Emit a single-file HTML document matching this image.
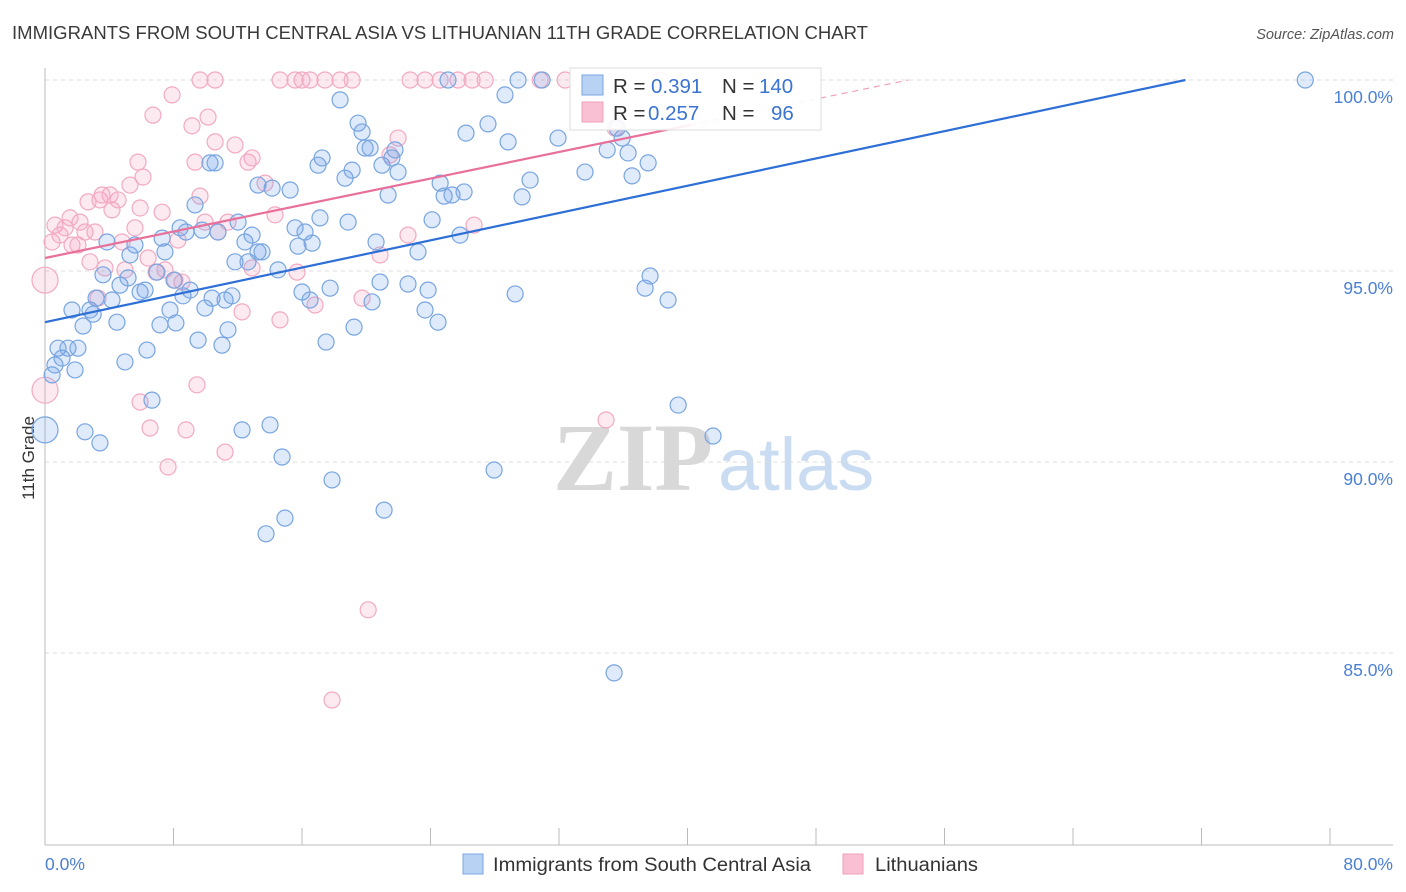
<!DOCTYPE html>
<html><head><meta charset="utf-8"><style>
body{margin:0;background:#fff;font-family:"Liberation Sans",sans-serif;}
#wrap{position:relative;width:1406px;height:892px;overflow:hidden}
</style></head><body><div id="wrap">
<svg id="svg" width="1406" height="892" xmlns="http://www.w3.org/2000/svg"></svg>
</div>
<script>
const blueX=[0,0.44,0.62,0.81,1.06,1.43,1.87,2.05,1.68,2.37,2.8,3.0,3.18,2.49,3.42,3.61,3.86,4.17,4.48,4.67,4.98,5.17,5.29,5.6,5.92,6.23,6.35,6.66,6.97,7.16,7.29,7.47,7.78,8.03,8.15,8.41,8.59,8.78,9.03,9.34,9.53,9.78,9.96,10.27,10.4,10.59,10.77,11.02,11.21,11.39,11.64,11.83,12.02,12.27,12.45,12.64,12.89,13.26,13.26,13.51,13.76,14.01,14.14,14.51,14.76,14.94,15.26,15.57,15.75,16.0,16.19,16.5,16.63,17.0,17.12,17.25,17.5,17.75,17.87,18.37,18.68,18.87,19.12,19.24,19.49,19.74,19.93,20.24,20.36,20.61,20.86,20.98,21.11,21.36,21.6,21.79,21.98,22.6,23.22,23.66,23.85,24.1,24.47,24.6,24.85,25.09,25.34,25.84,26.09,26.21,27.58,27.96,28.64,28.83,29.27,29.45,29.7,30.2,30.95,31.94,33.62,35.0,35.43,35.62,35.93,36.3,36.55,37.36,37.55,37.67,38.79,39.42,41.59,78.46];
const blueY=[90.84,92.28,92.54,92.98,92.72,92.98,92.41,92.98,93.98,93.56,93.98,93.87,94.29,90.79,90.5,94.9,95.76,94.24,93.66,94.63,92.62,94.82,95.42,95.68,94.45,94.5,92.93,91.62,94.97,93.59,95.86,95.5,93.98,94.76,93.64,96.13,94.35,96.02,94.5,96.73,93.19,96.07,94.03,97.83,94.29,97.83,96.02,93.06,94.24,93.46,94.35,95.24,96.28,90.84,95.76,95.24,95.94,97.25,95.5,95.5,88.12,90.97,97.17,95.03,90.13,88.53,97.12,96.13,95.65,94.45,96.02,94.24,95.73,97.77,96.39,97.96,93.14,94.55,89.53,99.48,97.43,96.28,97.64,93.53,98.87,98.64,98.22,98.22,94.19,95.76,94.71,97.77,88.74,96.99,97.96,98.17,97.59,94.66,95.5,93.98,94.5,96.34,93.66,97.3,96.96,100,96.99,95.94,97.07,98.61,98.85,89.79,99.61,98.38,94.4,100,96.94,97.38,100,98.48,97.59,98.17,84.48,98.74,98.48,98.09,97.49,94.55,97.83,94.87,94.24,91.49,90.68,100];
const blueBig=[0];
const pinkX=[0,0,0.44,0.62,0.93,1.25,1.56,1.68,2.05,2.18,2.49,2.68,2.8,3.11,3.3,3.42,3.55,3.74,4.05,4.17,4.55,4.8,4.98,5.29,5.6,5.79,5.92,5.92,6.1,6.42,6.54,6.72,6.91,7.29,7.47,7.66,7.91,8.09,8.28,8.53,8.78,9.15,9.34,9.46,9.65,9.96,10.15,9.65,10.59,10.59,10.77,11.21,11.39,11.83,12.27,12.64,12.89,12.89,13.7,14.32,14.63,14.63,15.57,15.69,16.0,16.5,16.81,17.43,17.87,18.37,19.12,19.74,20.12,20.86,21.48,21.98,22.6,22.73,23.66,24.6,25.71,26.59,26.71,27.4,30.83,32.38,34.93,35.49,38.29];
const pinkY=[94.76,91.88,95.76,96.2,95.94,96.13,96.39,95.68,95.68,96.28,96.02,96.81,95.24,96.02,94.29,96.86,96.99,95.08,96.99,96.6,96.86,95.76,95.03,97.25,96.13,97.85,96.65,91.57,97.46,95.34,90.89,99.08,94.97,96.54,95.03,89.87,99.61,94.76,95.81,94.71,90.84,98.8,97.85,92.02,96.96,96.28,99.03,100,100,98.38,96.02,90.26,96.28,98.3,93.93,97.85,97.96,95.08,97.3,96.47,100,93.72,100,94.97,100,100,94.11,100,83.77,100,100,94.29,86.13,95.42,98.04,98.48,95.94,100,100,100,100,100,96.2,100,100,100,91.1,98.74,100];
const pinkBig=[0,1];
const yTicks=[100,95,90,85];
const yTickLabels=["100.0%","95.0%","90.0%","85.0%"];
const xTicks=[0,8,16,24,32,40,48,56,64,72,80];
const blueTrend={b0:93.66,slope:0.0893};
const pinkTrend={b0:95.34,slope:0.0867,solidEnd:40.2};

const NS="http://www.w3.org/2000/svg";
const svg=document.getElementById('svg');
const L=45,R=1330,T=80;
const sx=v=>L+(v/80)*(R-L);
const sy=v=>T+(100-v)*38.2;
function el(tag,attrs,parent){const e=document.createElementNS(NS,tag);for(const k in attrs)e.setAttribute(k,attrs[k]);(parent||svg).appendChild(e);return e;}
function txt(x,y,s,attrs){const e=el('text',Object.assign({x:x,y:y},attrs));e.textContent=s;return e;}

let t=txt(12,39,"IMMIGRANTS FROM SOUTH CENTRAL ASIA VS LITHUANIAN 11TH GRADE CORRELATION CHART",{"font-size":"18","fill":"#3a3a3a","textLength":"856","lengthAdjust":"spacingAndGlyphs"});

t=txt(1394,39,"Source: ZipAtlas.com",{"font-size":"14.5","fill":"#555","text-anchor":"end","font-style":"italic"});


t=txt(553,490,"ZIP",{"font-size":"96","fill":"#d8d8d8","font-family":"Liberation Serif, serif","font-weight":"bold"});

t=txt(718,490,"atlas",{"font-size":"74","fill":"#c9dcf2"});


yTicks.forEach((v,i)=>{
 const g=el('line',{x1:L,x2:1393,y1:sy(v),y2:sy(v),stroke:"#dcdcdc","stroke-dasharray":"4,4","stroke-width":1});
 
 const l=txt(1393,sy(v)+23,yTickLabels[i],{"font-size":"17.5","fill":"#4a7fd4","text-anchor":"end"});
 
});
let a=el('line',{x1:L,x2:L,y1:68,y2:845,stroke:"#bbb"});
a=el('line',{x1:L,x2:1393,y1:845,y2:845,stroke:"#bbb"});
xTicks.forEach(v=>{const k=el('line',{x1:sx(v),x2:sx(v),y1:828,y2:845,stroke:"#bbb"});});
t=txt(45,870,"0.0%",{"font-size":"17.5","fill":"#4a7fd4"});
t=txt(1393,870,"80.0%",{"font-size":"17.5","fill":"#4a7fd4","text-anchor":"end"});
t=txt(34,458,"11th Grade",{"font-size":"17","fill":"#333","text-anchor":"middle","transform":"rotate(-90 34 458)"});


function drawPts(X,Y,big,fill,stroke,name){
 X.forEach((xv,i)=>{
  const r=big.includes(i)?13:8;
  const c=el('circle',{cx:sx(xv),cy:sy(Y[i]),r:r,fill:fill,stroke:stroke,"stroke-width":1.2});
  
  
 });
}
drawPts(pinkX,pinkY,pinkBig,"rgba(244,160,190,0.22)","#f2a9c1","lithuanian-point");
drawPts(blueX,blueY,blueBig,"rgba(110,160,230,0.22)","#78a5e0","immigrant-point");

const bEnd=(100-blueTrend.b0)/blueTrend.slope;
let ln=el('line',{x1:sx(0),y1:sy(blueTrend.b0),x2:sx(bEnd),y2:sy(100),stroke:"#2d6fd6","stroke-width":2.2});

const pe=pinkTrend.solidEnd;
ln=el('line',{x1:sx(0),y1:sy(pinkTrend.b0),x2:sx(pe),y2:sy(pinkTrend.b0+pinkTrend.slope*pe),stroke:"#e8709a","stroke-width":2.2});

const pEnd=(100-pinkTrend.b0)/pinkTrend.slope;
ln=el('line',{x1:sx(pe),y1:sy(pinkTrend.b0+pinkTrend.slope*pe),x2:sx(pEnd),y2:sy(100),stroke:"#f0a0bb","stroke-width":1.2,"stroke-dasharray":"6,5"});


let g=el('g',{});
el('rect',{x:570,y:68,width:251,height:62,fill:"rgba(255,255,255,0.9)",stroke:"#ddd"},g);
el('rect',{x:582,y:75,width:21,height:20,fill:"#b8d2f4",stroke:"#7aa6e0"},g);
el('rect',{x:582,y:102,width:21,height:20,fill:"#f8c0d2",stroke:"#f0a0bb"},g);
[["R = ",613,93,"#333"],["0.391",651,93,"#3a74d0"],["N = ",722,93,"#333"],["140",759,93,"#3a74d0"],
 ["R = ",613,120,"#333"],["0.257",648,120,"#3a74d0"],["N = ",722,120,"#333"],["96",771,120,"#3a74d0"]].forEach(d=>{
 const e=txt(d[1],d[2],d[0],{"font-size":"20.5","fill":d[3]});g.appendChild(e);
 
});

let bl=el('rect',{x:463,y:854,width:20,height:20,fill:"#b8d2f4",stroke:"#7aa6e0"});

t=txt(493,871,"Immigrants from South Central Asia",{"font-size":"19","fill":"#333","textLength":"318","lengthAdjust":"spacingAndGlyphs"});

bl=el('rect',{x:843,y:854,width:20,height:20,fill:"#f8c0d2",stroke:"#f0a0bb"});

t=txt(875,871,"Lithuanians",{"font-size":"19","fill":"#333","textLength":"103","lengthAdjust":"spacingAndGlyphs"});

</script></body></html>
